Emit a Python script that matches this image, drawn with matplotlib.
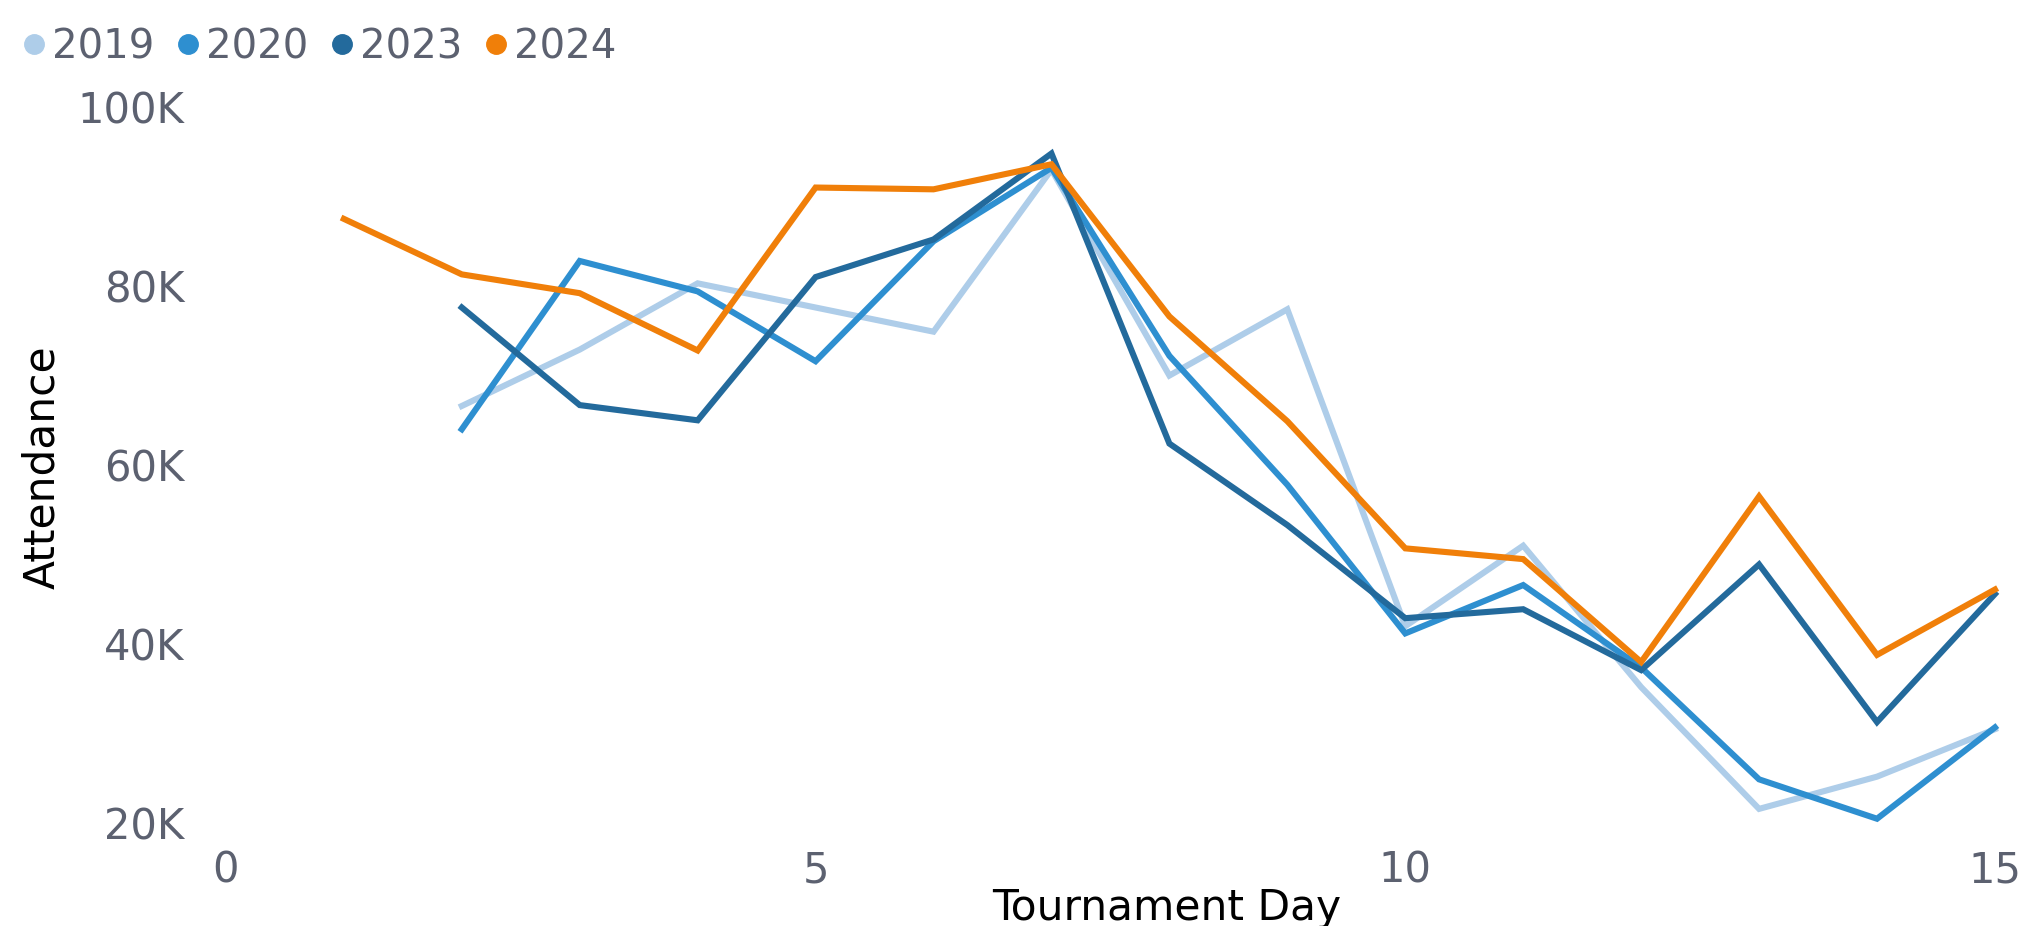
import matplotlib
matplotlib.use('Agg')
import matplotlib.pyplot as plt
from matplotlib.lines import Line2D

# tournament attendance (thousands) by day
days_2019 = list(range(2, 16))
att_2019 = [66.6, 72.9, 80.3, 77.6, 74.9, 93.0, 70.0, 77.4, 42.0, 51.0, 35.2, 21.6, 25.2, 30.5]

days_2020 = list(range(2, 16))
att_2020 = [64.0, 82.8, 79.4, 71.6, 85.0, 93.2, 72.2, 57.8, 41.2, 46.6, 37.4, 24.9, 20.5, 30.7]

days_2023 = list(range(2, 16))
att_2023 = [77.6, 66.7, 65.0, 81.0, 85.2, 94.8, 62.4, 53.3, 42.9, 43.9, 37.1, 48.9, 31.3, 45.6]

days_2024 = list(range(1, 16))
att_2024 = [87.5, 81.3, 79.2, 72.8, 91.0, 90.8, 93.6, 76.6, 64.9, 50.7, 49.5, 38.0, 56.5, 38.8, 46.1]

years = ['2019', '2020', '2023', '2024']
colors = ['#aecde9', '#2e8fd0', '#236a9c', '#f07f09']

x_ticks = [0, 5, 10, 15]
y_ticks = [20, 40, 60, 80, 100]
y_tick_labels = ['20K', '40K', '60K', '80K', '100K']

tick_color = '#5c6170'
font = ['DejaVu Sans']

fig = plt.figure(figsize=(20.28, 9.26), dpi=100)
ax = fig.add_axes([0.1114, 0.111, 0.8723, 0.7735])

series = [(days_2019, att_2019), (days_2020, att_2020),
          (days_2023, att_2023), (days_2024, att_2024)]
for (d, a), c in zip(series, colors):
    ax.plot(d, a, color=c, linewidth=4.4, solid_joinstyle='miter', clip_on=False)

ax.set_xlim(0, 15)
ax.set_ylim(20, 100)
ax.set_xticks(x_ticks)
ax.set_xticklabels([str(t) for t in x_ticks])
ax.set_yticks(y_ticks)
ax.set_yticklabels(y_tick_labels)

for lab in ax.get_xticklabels() + ax.get_yticklabels():
    lab.set_fontfamily(font)
    lab.set_fontsize(30)
    lab.set_color(tick_color)

ax.tick_params(axis='both', length=0)
ax.tick_params(axis='x', pad=19)
ax.tick_params(axis='y', pad=30)
for s in ax.spines.values():
    s.set_visible(False)

ax.set_xlabel('Tournament Day', fontsize=30.5, family=font, color='black', va='baseline')
ax.xaxis.set_label_coords(0.532, -0.1355)
ax.set_ylabel('Attendance', fontsize=30.5, family=font, color='black', va='center')
ax.yaxis.set_label_coords(-0.104, 0.497)

handles = [Line2D([], [], marker='o', linestyle='none', markersize=14,
                  markerfacecolor=c, markeredgecolor=c) for c in colors]
leg = fig.legend(handles, years, loc='upper left', bbox_to_anchor=(-0.003, 1.003),
                 ncol=4, frameon=False, handlelength=0.5, handletextpad=0.2,
                 columnspacing=0.58, borderaxespad=0.35,
                 prop={'family': font, 'size': 29})
for t in leg.get_texts():
    t.set_color(tick_color)

fig.savefig('out.png', dpi=100)
